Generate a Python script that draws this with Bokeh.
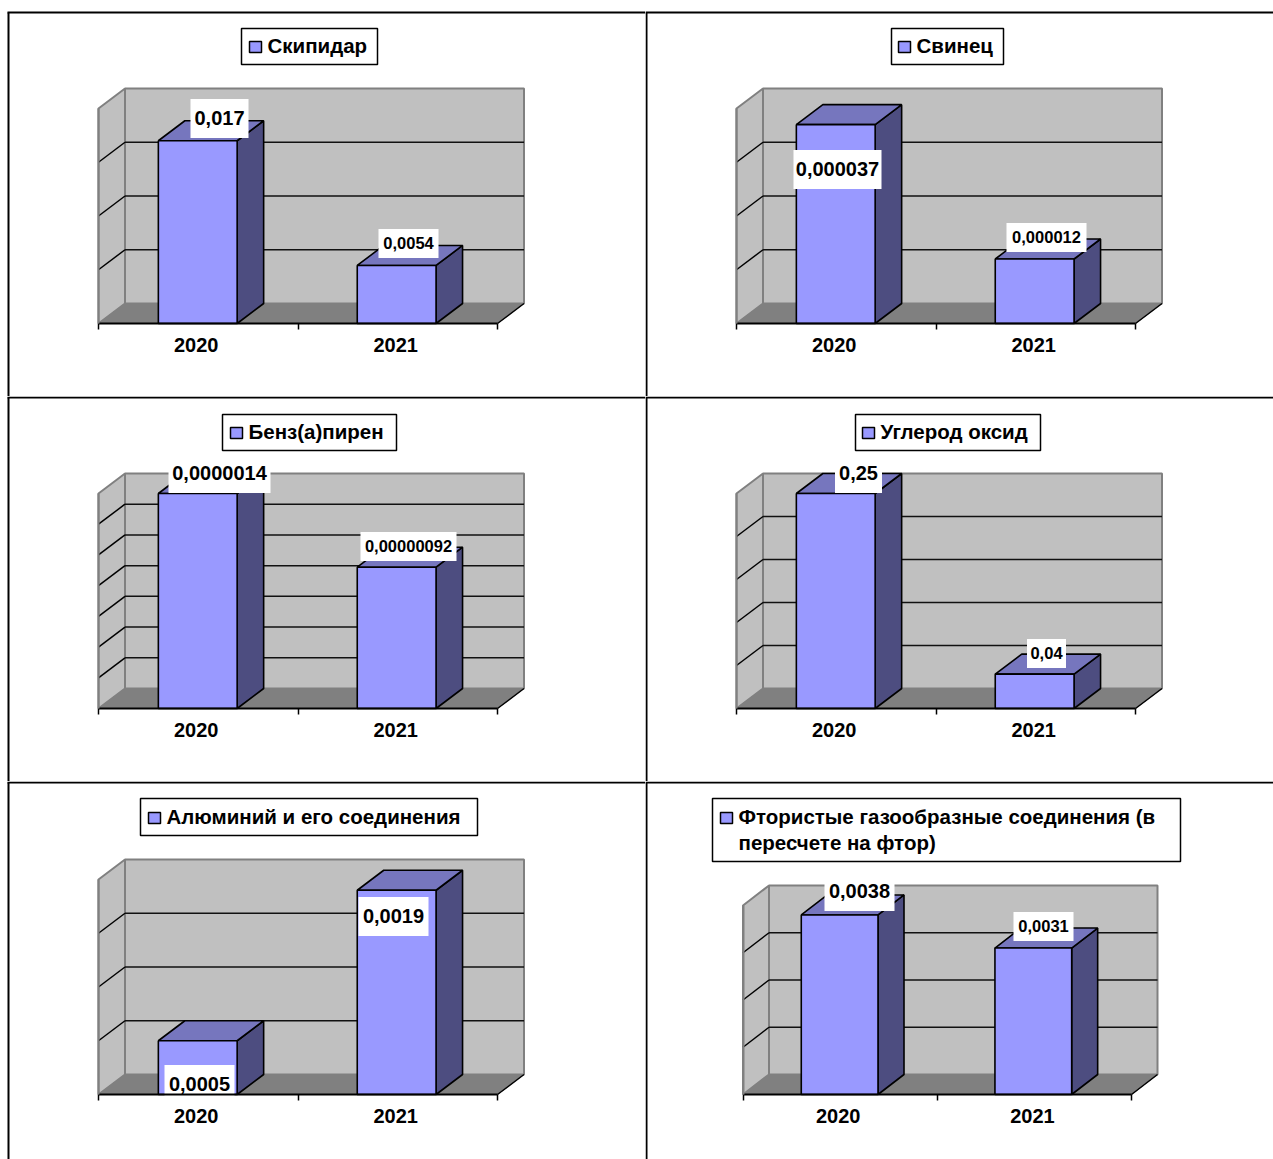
from bokeh.core.properties import value
from bokeh.embed import file_html
from bokeh.layouts import column, row
from bokeh.models import FixedTicker, LinearAxis, Range1d
from bokeh.plotting import figure
from bokeh.resources import INLINE

# ---- data -------------------------------------------------------------
years = ["2020", "2021"]

skipidar = [0.017, 0.0054]
svinec = [0.000037, 0.000012]
benzapiren = [0.0000014, 0.00000092]
uglerod = [0.25, 0.04]
alyuminii = [0.0005, 0.0019]
ftor = [0.0038, 0.0031]

skipidar_labels = ["0,017", "0,0054"]
svinec_labels = ["0,000037", "0,000012"]
benzapiren_labels = ["0,0000014", "0,00000092"]
uglerod_labels = ["0,25", "0,04"]
alyuminii_labels = ["0,0005", "0,0019"]
ftor_labels = ["0,0038", "0,0031"]

skipidar_ticks = [0.005, 0.01, 0.015, 0.02]
svinec_ticks = [0.00001, 0.00002, 0.00003, 0.00004]
benzapiren_ticks = [0.0000002, 0.0000004, 0.0000006, 0.0000008, 0.000001, 0.0000012, 0.0000014]
uglerod_ticks = [0.05, 0.1, 0.15, 0.2, 0.25]
alyuminii_ticks = [0.0005, 0.001, 0.0015, 0.002]
ftor_ticks = [0.001, 0.002, 0.003, 0.004]

# ---- styling ----------------------------------------------------------
FONT = value("Liberation Sans")
FRONT = "#9999FF"
TOP = "#7676BE"
SIDE = "#4D4D80"
WALL = "#C0C0C0"
FLOOR = "#808080"
BAR_FRACTION = 0.395
BAR_CENTERS = [0.4975, 1.4945]
BIG = 20
SMALL = 16.5
PAGE_RIGHT = 1273
PAGE_LEFT = 8
PAGE_TOP = 12
PAGE_BOTTOM = 1159


def panel(cell, plot, series, labels, ticks, title_box, title_lines, label_boxes):
    """One framed chart cell; every length in `cell` and `plot` is in page pixels."""
    cx0, cy0, cw, ch = cell
    fx, fy, slot, vh, depth_x, depth_y = plot
    vmax = ticks[-1]

    def X(px):
        return (px - fx) / slot

    def Y(py):
        return (fy - py) / vh * vmax

    p = figure(
        width=cw, height=ch, output_backend="svg", toolbar_location=None,
        x_range=Range1d(X(cx0), X(cx0 + cw)),
        y_range=Range1d(Y(cy0 + ch), Y(cy0)),
        x_axis_type=None, y_axis_type=None,
        min_border=0, min_border_left=0, min_border_right=0,
        min_border_top=0, min_border_bottom=0,
        background_fill_color="white", border_fill_color="white",
    )
    p.outline_line_color = None

    dx = depth_x / slot
    dy = depth_y / vh * vmax
    n = len(series)

    # cell rules: each panel draws its own top and left edge, the frame stays open
    # on the right and bottom of the page
    rule_x = PAGE_LEFT if cx0 == 0 else cx0 + 1
    rule_y = PAGE_TOP if cy0 == 0 else cy0 + 1
    p.segment([X(rule_x - 1)], [Y(rule_y)], [X(PAGE_RIGHT)], [Y(rule_y)], line_color="black", line_width=2)
    p.segment([X(rule_x)], [Y(rule_y)], [X(rule_x)], [Y(cy0 + ch)], line_color="black", line_width=2)

    # walls and floor of the box
    p.patch([dx, n + dx, n + dx, dx], [dy, dy, vmax + dy, vmax + dy],
            fill_color=WALL, line_color=FLOOR, line_width=2)
    p.patch([0, dx, dx, 0], [0, dy, vmax + dy, vmax],
            fill_color=WALL, line_color=FLOOR, line_width=2)
    p.patch([0, dx, n + dx, n], [0, dy, dy, 0],
            fill_color=FLOOR, line_color=FLOOR, line_width=1)
    p.segment([n], [0], [n + dx], [dy], line_color="black", line_width=1.5)

    # gridlines along both walls
    inner = ticks[:-1]
    p.segment([dx] * len(inner), [t + dy for t in inner], [n + dx] * len(inner),
              [t + dy for t in inner], line_color="#111111", line_width=1.5)
    p.segment([0] * len(inner), inner, [dx] * len(inner), [t + dy for t in inner],
              line_color="black", line_width=1.5)

    # bars: side, top, front
    for center, v in zip(BAR_CENTERS, series):
        x0 = center - BAR_FRACTION / 2
        x1 = center + BAR_FRACTION / 2
        p.patch([x1, x1 + dx, x1 + dx, x1], [0, dy, v + dy, v],
                fill_color=SIDE, line_color="black", line_width=1.6)
        p.patch([x0, x1, x1 + dx, x0 + dx], [v, v, v + dy, v + dy],
                fill_color=TOP, line_color="black", line_width=1.6)
        p.quad(left=x0, right=x1, bottom=0, top=v,
               fill_color=FRONT, line_color="black", line_width=1.6)

    # value labels on white plates
    for text, (lx, ly, lw, lh, size) in zip(labels, label_boxes):
        p.rect([X(lx)], [Y(ly)], width=lw, height=lh, width_units="screen", height_units="screen",
               fill_color="white", line_color=None)
        p.text([X(lx)], [Y(ly - 1)], text=[text], text_font=FONT, text_font_style="bold",
               text_font_size=f"{size}px", text_color="black",
               text_align="center", text_baseline="middle")

    # legend
    bx0, by0, bx1, by1, swatch_x, swatch_y, text_x = title_box
    p.quad(left=X(bx0), right=X(bx1), top=Y(by0), bottom=Y(by1),
           fill_color="white", line_color="black", line_width=1.5)
    p.quad(left=X(swatch_x), right=X(swatch_x + 12), top=Y(swatch_y), bottom=Y(swatch_y + 11),
           fill_color=FRONT, line_color="black", line_width=1.5)
    for line, ty in title_lines:
        p.text([X(text_x)], [Y(ty - 1)], text=[line], text_font=FONT, text_font_style="bold",
               text_font_size="20.5px", text_color="black",
               text_align="left", text_baseline="middle")

    # axes
    xaxis = LinearAxis(
        fixed_location=0,
        ticker=FixedTicker(ticks=[0.49, 1.49], minor_ticks=[0, 1, 2]),
        major_label_overrides={0.49: years[0], 1.49: years[1]},
        bounds=(0, n),
        axis_line_color="black", axis_line_width=2,
        major_tick_line_color=None, major_tick_in=0, major_tick_out=0,
        minor_tick_line_color="black", minor_tick_line_width=1.5,
        minor_tick_in=0, minor_tick_out=6,
        major_label_standoff=8,
        major_label_text_font=FONT.value, major_label_text_font_style="bold",
        major_label_text_font_size="20px", major_label_text_color="black",
    )
    p.add_layout(xaxis, "below")
    yaxis = LinearAxis(
        fixed_location=0,
        ticker=FixedTicker(ticks=[]),
        bounds=(0, vmax),
        axis_line_color=FLOOR, axis_line_width=2,
        major_tick_line_color=None, minor_tick_line_color=None,
    )
    p.add_layout(yaxis, "left")
    return p


ROW1, ROW2, ROW3 = (0, 396), (396, 385), (781, 378)
COL1, COL2 = (0, 645), (645, 628)


def cell(col, rw):
    return (col[0], rw[0], col[1], rw[1])


p1 = panel(cell(COL1, ROW1), (98, 323, 199.5, 215, 26.5, 20), skipidar, skipidar_labels, skipidar_ticks,
           (241, 28, 377, 64, 249, 41, 267), [("Скипидар", 46)],
           [(219, 118, 58, 39, BIG), (408, 243, 60, 29, SMALL)])
p2 = panel(cell(COL2, ROW1), (736, 323, 199.5, 215, 26.5, 20), svinec, svinec_labels, svinec_ticks,
           (891, 28, 1003, 64, 898, 41, 916), [("Свинец", 46)],
           [(837, 169, 88, 39, BIG), (1046, 237, 80, 29, SMALL)])
p3 = panel(cell(COL1, ROW2), (98, 708, 199.5, 215, 26.5, 20), benzapiren, benzapiren_labels, benzapiren_ticks,
           (222, 414, 396, 450, 230, 427, 248), [("Бенз(а)пирен", 432)],
           [(219, 473, 102, 39, BIG), (408, 546, 96, 29, SMALL)])
p4 = panel(cell(COL2, ROW2), (736, 708, 199.5, 215, 26.5, 20), uglerod, uglerod_labels, uglerod_ticks,
           (855, 414, 1040, 450, 862, 427, 880), [("Углерод оксид", 432)],
           [(858, 473, 47, 39, BIG), (1046, 653, 39, 29, SMALL)])
p5 = panel(cell(COL1, ROW3), (98, 1094, 199.5, 215, 26.5, 20), alyuminii, alyuminii_labels, alyuminii_ticks,
           (140, 798, 477, 835, 148, 812, 166), [("Алюминий и его соединения", 817)],
           [(199, 1084, 70, 39, BIG), (393, 916, 70, 39, BIG)])
p6 = panel(cell(COL2, ROW3), (742.5, 1094, 194.25, 189, 26, 20), ftor, ftor_labels, ftor_ticks,
           (712, 798, 1180, 861, 720, 812, 738),
           [("Фтористые газообразные соединения (в", 817), ("пересчете на фтор)", 843)],
           [(859, 891, 70, 39, BIG), (1043, 926, 60, 29, SMALL)])

page = column(row(p1, p2), row(p3, p4), row(p5, p6), spacing=0)
open("out.html", "w").write(file_html(page, INLINE))
